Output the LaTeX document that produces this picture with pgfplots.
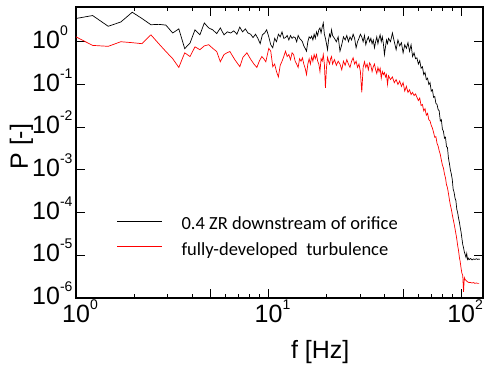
\documentclass[border=0pt]{standalone}
\usepackage{fontspec}
\setmainfont{Liberation Sans}
\newfontfamily\carlito{Carlito}
\usepackage{pgfplots}
\pgfplotsset{compat=1.18}
\newcommand{\tp}[1]{10\raisebox{13pt}{\fontsize{14}{14}\selectfont #1}}
\begin{document}
\begin{tikzpicture}
\begin{loglogaxis}[
  scale only axis, width=407pt, height=291pt,
  xmin=1, xmax=130, ymin=1e-6, ymax=6.5,
  axis line style={line width=1.1pt},
  tick align=inside,
  major tick length=9pt, minor tick length=4.5pt,
  every tick/.style={black, line width=0.8pt},
  xtick={1,10,100}, xticklabels={\tp{0},\tp{1},\tp{2}},
  extra x ticks={5,50}, extra x tick labels={},
  ytick={1e-6,1e-5,1e-4,1e-3,1e-2,1e-1,1},
  yticklabels={\tp{-6},\tp{-5},\tp{-4},\tp{-3},\tp{-2},\tp{-1},\tp{0}},
  yminorticks=false,
  ticklabel style={font=\fontsize{25}{25}\selectfont},
  xticklabel style={anchor=base, inner sep=0pt, yshift=-24pt, xshift=4pt},
  yticklabel style={anchor=base west, inner sep=0pt, xshift=-44pt, yshift=-6.6pt},
  xlabel={f [Hz]}, ylabel={P [-]},
  every axis x label/.style={at={([yshift=-60pt]rel axis cs:0.6,0)}, anchor=base, font=\fontsize{25}{25}\selectfont},
  every axis y label/.style={at={([xshift=-48pt]rel axis cs:0,0.52)}, anchor=base, rotate=90, font=\fontsize{25}{25}\selectfont},
  legend style={draw=none, fill=none, at={(rel axis cs:0.1,0.21)}, anchor=west,
    font=\carlito\fontsize{18.5}{18.5}\selectfont, inner sep=0pt, row sep=11.5pt,
    column sep=19pt, nodes={inner sep=0pt}},
  legend image code/.code={\draw[#1] (0pt,3pt) -- (45pt,3pt);},
  legend cell align=left,
]
\addplot[black, line width=0.7pt] coordinates {
(1,3.5)(1.22,4.1)(1.47,2.3)(1.71,2.9)(1.96,4.9)(2.2,3.5)(2.45,2.5)(2.69,2.55)(2.93,2.45)(3.18,1.6)
(3.42,2.0)(3.67,0.69)(3.91,0.93)(4.15,1.9)(4.4,1.45)(4.64,2.75)(4.89,2.1)(5.13,1.9)(5.38,1.55)(5.62,2.1)
(5.87,1.45)(6.11,1.7)(6.36,1.6)(6.6,1.8)(6.85,1.5)(7.09,2.2)(7.33,1.7)(7.58,2.0)(7.82,1.6)(8.07,1.5)
(8.31,1.25)(8.56,1.5)(8.8,1.2)(9.05,0.9)(9.29,1.45)(9.54,1.6)(9.78,1.9)(10.03,1.3)(10.27,0.85)(10.52,0.72)
(10.76,1.2)(11.0,1.0)(11.25,1.5)(11.5,1.3)(11.75,1.7)(12.0,1.2)(12.25,1.25)(12.5,1.4)(12.75,1.1)(13.0,1.4)
(13.25,1.2)(13.5,1.3)(13.75,1.25)(14.0,1.0)(14.25,1.4)(14.5,1.2)(14.75,1.1)(15.0,1.0)(15.25,0.8)(15.5,0.7)
(15.75,0.6)(16.0,1.0)(16.25,1.3)(16.5,1.2)(16.75,1.35)(17.0,1.1)(17.25,1.5)(17.5,1.2)(17.75,1.7)(18.0,1.4)
(18.25,1.9)(18.5,2.1)(18.75,1.6)(19.0,2.2)(19.25,2.75)(19.5,1.5)(19.75,1.2)(20.0,0.9)(20.25,0.65)(20.5,1.1)
(20.75,1.5)(21.0,1.3)(21.25,1.9)(21.5,1.4)(22.0,1.2)(22.5,1.0)(23.0,1.3)(23.5,0.6)(24.0,0.85)(24.5,1.3)
(25.0,1.1)(25.5,1.4)(26.0,1.0)(26.5,1.3)(27.0,1.1)(27.5,1.5)(28.0,1.2)(28.5,0.72)(29.0,1.0)(29.5,1.2)
(30.0,1.5)(30.5,1.3)(31.0,1.0)(31.5,1.4)(32.0,0.85)(32.5,1.1)(33.0,1.3)(33.5,1.0)(34.0,1.2)(34.5,0.9)
(35.0,1.1)(35.5,0.72)(36.0,1.0)(36.5,1.3)(37.0,0.9)(37.5,1.2)(38.0,1.45)(38.5,1.0)(39.0,1.3)(39.5,0.9)
(40.0,0.5)(40.5,0.76)(41.0,1.1)(41.5,0.9)(42,1.2)(43,1.0)(44,1.6)(45,1.0)(46,0.65)(47,1.1)
(48,0.8)(49,0.95)(50,0.55)(51,0.85)(52,0.7)(53,0.95)(54,0.6)(55,0.85)(56,0.45)(57,0.55)
(58,0.4)(59,0.42)(60,0.3)(61,0.36)(62,0.24)(63,0.26)(64,0.17)(65,0.19)(66,0.13)(67,0.14)
(68,0.1)(69,0.11)(70,0.07)(71,0.075)(72,0.05)(73,0.052)(74,0.036)(75,0.034)(76,0.026)(77,0.024)
(78,0.014)(79,0.015)(80,0.009)(81,0.008)(82,0.0055)(83,0.0058)(84,0.0035)(85,0.0033)(86,0.0019)(87,0.0014)
(88,0.001)(89,8e-4)(90,6e-4)(91,3.5e-4)(92,3e-4)(93,2.2e-4)(94,1.9e-4)(95,1.2e-4)(96,1e-4)(97,7.5e-5)
(98,6e-5)(99,4.5e-5)(100,3.5e-5)(101,2.5e-5)(102,1.8e-5)(103,1.5e-5)(104,1.2e-5)(105,1.05e-5)(106,9e-6)(107,1.1e-5)
(108,8e-6)(109,8.6e-6)(110,7.9e-6)(112,8.4e-6)(114,7.8e-6)(116,8.2e-6)(118,8e-6)(120,8.3e-6)(122,8e-6)(124,8.2e-6)(125,8e-6)
};
\addlegendentry{0.4 ZR downstream of orifice}
\addplot[red, line width=0.7pt] coordinates {
(1,1.3)(1.22,0.82)(1.47,0.78)(1.71,1.0)(1.96,0.95)(2.2,0.9)(2.45,1.45)(2.69,0.9)(2.93,0.59)(3.18,0.4)
(3.42,0.25)(3.67,0.55)(3.91,0.45)(4.15,0.76)(4.4,0.65)(4.64,0.8)(4.89,0.85)(5.13,0.7)(5.38,0.59)(5.62,0.34)
(5.87,0.5)(6.08,0.55)(6.3,0.59)(6.68,0.38)(7.1,0.26)(7.36,0.43)(7.72,0.55)(8.1,0.38)(8.4,0.3)(8.7,0.25)
(8.95,0.35)(9.23,0.45)(9.45,0.4)(9.68,0.34)(10.03,0.7)(10.27,0.6)(10.52,0.26)(10.76,0.3)(11.0,0.2)(11.25,0.15)
(11.5,0.28)(11.75,0.35)(12.0,0.45)(12.25,0.6)(12.5,0.45)(12.75,0.5)(13.0,0.38)(13.25,0.55)(13.5,0.5)(13.75,0.35)
(14.0,0.3)(14.25,0.25)(14.5,0.4)(14.75,0.35)(15.0,0.42)(15.25,0.3)(15.5,0.24)(15.75,0.17)(16.0,0.3)(16.25,0.4)
(16.5,0.3)(16.75,0.45)(17.0,0.35)(17.25,0.5)(17.5,0.4)(17.75,0.5)(18.0,0.35)(18.25,0.3)(18.5,0.2)(18.75,0.4)
(19.0,0.35)(19.25,0.5)(19.5,0.3)(19.75,0.083)(20.0,0.25)(20.25,0.43)(20.5,0.35)(20.75,0.3)(21.0,0.4)(21.25,0.45)
(21.5,0.3)(22.0,0.38)(22.5,0.28)(23.0,0.35)(23.5,0.3)(24.0,0.22)(24.5,0.35)(25.0,0.28)(25.5,0.38)(26.0,0.3)
(26.5,0.25)(27.0,0.35)(27.5,0.42)(28.0,0.3)(28.5,0.35)(29.0,0.25)(29.5,0.3)(30.0,0.2)(30.5,0.065)(31.0,0.25)
(31.5,0.34)(32.0,0.25)(32.5,0.3)(33.0,0.22)(33.5,0.32)(34.0,0.28)(34.5,0.2)(35.0,0.26)(35.5,0.3)(36.0,0.22)
(36.5,0.18)(37.0,0.25)(37.5,0.2)(38.0,0.24)(38.5,0.14)(39.0,0.2)(39.5,0.17)(40.0,0.19)(40.5,0.15)(41.0,0.17)
(41.5,0.1)(42,0.16)(43,0.13)(44,0.15)(45,0.11)(46,0.13)(47,0.1)(48,0.12)(49,0.09)(50,0.11)
(51,0.07)(52,0.09)(53,0.065)(54,0.075)(55,0.058)(56,0.065)(57,0.055)(58,0.06)(59,0.05)(60,0.042)
(61,0.048)(62,0.032)(63,0.034)(64,0.024)(65,0.027)(66,0.019)(67,0.021)(68,0.015)(69,0.014)(70,0.011)
(71,0.0095)(72,0.0075)(73,0.0058)(74,0.006)(75,0.0042)(76,0.0036)(77,0.0028)(78,0.0023)(79,0.0017)(80,0.0013)
(81,0.0011)(82,8e-4)(83,6.5e-4)(84,4.5e-4)(85,3.8e-4)(86,2.8e-4)(87,2e-4)(88,1.5e-4)(89,1.2e-4)(90,9e-5)
(91,7e-5)(92,5.5e-5)(93,4.2e-5)(94,3.2e-5)(95,2.4e-5)(96,1.7e-5)(97,1.3e-5)(98,9e-6)(99,7e-6)(100,5e-6)
(101,3.8e-6)(102,3.4e-6)(103,1.4e-6)(104,3e-6)(105,2.7e-6)(106,2.6e-6)(107,2.5e-6)(108,2.4e-6)(110,2.3e-6)(112,2.3e-6)
(114,2.25e-6)(116,2.3e-6)(118,2.2e-6)(120,2.25e-6)(122,2.2e-6)(124,2.2e-6)
};
\addlegendentry{fully-developed\ \ turbulence}
\end{loglogaxis}
\path ([xshift=-76pt,yshift=-67pt]current axis.south west) rectangle ([xshift=3pt,yshift=7pt]current axis.north east);
\end{tikzpicture}
\end{document}
